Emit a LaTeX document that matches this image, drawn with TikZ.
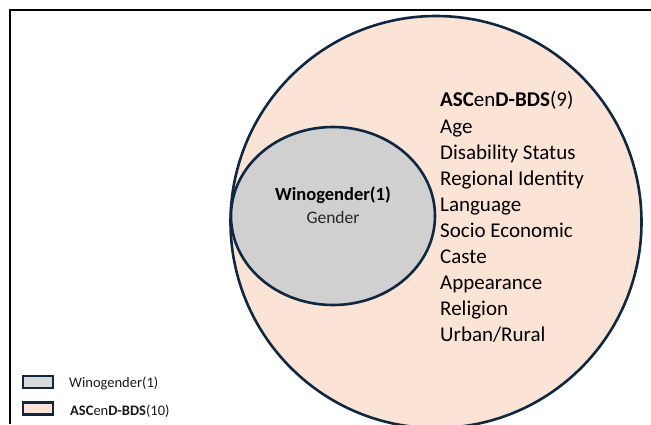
\documentclass[tikz,border=0pt]{standalone}
\usepackage{fontspec}
\setmainfont{Carlito}
\definecolor{peach}{HTML}{FBE3D6}
\definecolor{grayfill}{HTML}{D0D0D0}
\definecolor{navy}{HTML}{0E2841}
\begin{document}
\begin{tikzpicture}[x=1pt,y=-1pt,
  setline/.style={draw=navy,line width=2.6pt},
  listtxt/.style={anchor=base west,inner sep=0pt,font=\fontsize{21}{24}\selectfont,text=black},
  legtxt/.style={anchor=base west,inner sep=0pt,font=\fontsize{14.5}{16}\selectfont,text=black!90},
  legbox/.style={draw=navy,line width=2.4pt,minimum width=30pt,minimum height=12pt,inner sep=0pt}]
\useasboundingbox (0,0) rectangle (651,424);
% frame
\coordinate (fa) at (9.5,424);
\coordinate (fb) at (9.5,9.5);
\coordinate (fc) at (651,9.5);
\draw[black,line width=2pt] (fa) -- (fb) -- (fc);
% big set
\begin{scope}
\clip (0,0) rectangle (651,424);
\draw[setline,fill=peach] (436,222) ellipse [x radius=205.5,y radius=206];
\end{scope}
% small set
\draw[setline,fill=grayfill] (333,216) ellipse [x radius=102,y radius=89];
\node[anchor=base,inner sep=0pt,font=\fontsize{18.5}{20}\selectfont\bfseries] (wg) at (333,200) {Winogender(1)};
\node[anchor=base,inner sep=0pt,font=\fontsize{17.5}{20}\selectfont,text=black!85] (gen) at (333,223) {Gender};
% list
\node[listtxt] (h) at (440,106) {\textbf{ASC}en\textbf{D-BDS}(9)};
\node[listtxt] (l1) at (440,133) {Age};
\node[listtxt] (l2) at (440,159) {Disability Status};
\node[listtxt] (l3) at (440,185) {Regional Identity};
\node[listtxt] (l4) at (440,211) {Language};
\node[listtxt] (l5) at (440,237) {Socio Economic};
\node[listtxt] (l6) at (440,263) {Caste};
\node[listtxt] (l7) at (440,289) {Appearance};
\node[listtxt] (l8) at (440,315) {Religion};
\node[listtxt] (l9) at (440,341) {Urban/Rural};
% legend
\node[legbox,fill=grayfill!80!white] (k1) at (38,382) {};
\node[legtxt] (t1) at (69,387) {Winogender(1)};
\node[legbox,fill=peach] (k2) at (38,408.5) {};
\node[legtxt] (t2) at (70,415) {\textbf{ASC}en\textbf{D-BDS}(10)};
\end{tikzpicture}
\end{document}
